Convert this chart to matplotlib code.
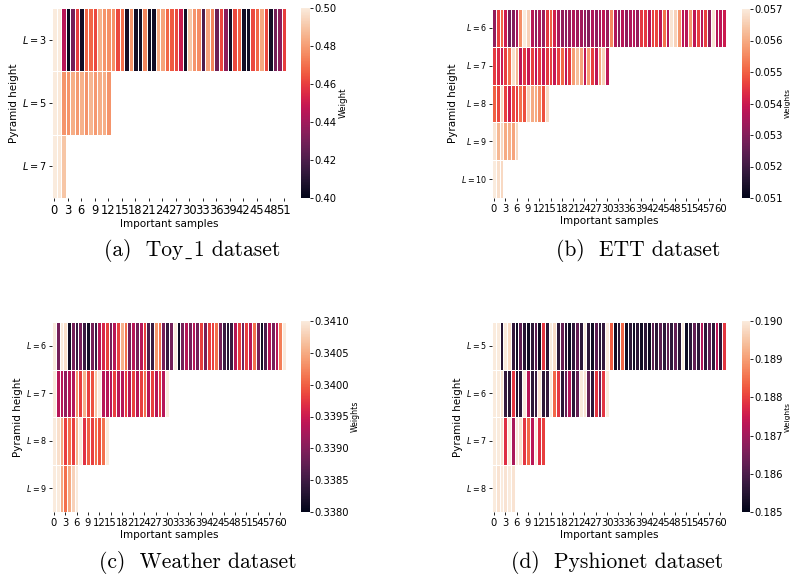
import matplotlib
matplotlib.use('Agg')
import matplotlib.pyplot as plt
import numpy as np
import seaborn as sns

# ---- data ----
toy_labels = ['$L=3$', '$L=5$', '$L=7$']
toy_L3 = [0.500, 0.500, 0.445, 0.402, 0.430, 0.460, 0.405, 0.468, 0.468, 0.462,
          0.485, 0.478, 0.477, 0.477, 0.462, 0.470, 0.405, 0.478, 0.405, 0.405,
          0.475, 0.405, 0.405, 0.483, 0.482, 0.468, 0.465, 0.462, 0.450, 0.405,
          0.490, 0.478, 0.476, 0.420, 0.482, 0.475, 0.428, 0.462, 0.435, 0.405,
          0.462, 0.467, 0.405, 0.405, 0.462, 0.468, 0.483, 0.462, 0.405, 0.430,
          0.435, 0.460]
toy_L5 = [0.500, 0.499, 0.478, 0.478, 0.484, 0.479, 0.485, 0.478, 0.486, 0.479,
          0.484, 0.484, 0.478]
toy_L7 = [0.500, 0.499, 0.490]

ett_labels = ['$L=6$', '$L=7$', '$L=8$', '$L=9$', '$L=10$']
ett_L6 = [0.0532, 0.0546, 0.0551, 0.0540, 0.0528, 0.0530, 0.0535, 0.0556, 0.0570, 0.0566,
          0.0537, 0.0531, 0.0536, 0.0533, 0.0545, 0.0550, 0.0541, 0.0535, 0.0532, 0.0531,
          0.0533, 0.0536, 0.0534, 0.0534, 0.0532, 0.0530, 0.0536, 0.0532, 0.0535, 0.0538,
          0.0533, 0.0555, 0.0536, 0.0531, 0.0537, 0.0532, 0.0536, 0.0537, 0.0533, 0.0545,
          0.0545, 0.0537, 0.0546, 0.0547, 0.0538, 0.0552, 0.0537, 0.0569, 0.0566, 0.0557,
          0.0538, 0.0537, 0.0557, 0.0538, 0.0546, 0.0537, 0.0546, 0.0532, 0.0569, 0.0537,
          0.0538, 0.0540]
ett_L7 = [0.0545, 0.0543, 0.0540, 0.0546, 0.0552, 0.0568, 0.0562, 0.0538, 0.0545, 0.0539,
          0.0546, 0.0538, 0.0545, 0.0539, 0.0545, 0.0546, 0.0539, 0.0546, 0.0551, 0.0538,
          0.0545, 0.0558, 0.0563, 0.0559, 0.0538, 0.0558, 0.0546, 0.0538, 0.0559, 0.0566,
          0.0538]
ett_L8 = [0.0550, 0.0547, 0.0567, 0.0546, 0.0540, 0.0547, 0.0546, 0.0552, 0.0548, 0.0566,
          0.0560, 0.0560, 0.0556, 0.0548, 0.0567]
ett_L9 = [0.0569, 0.0562, 0.0567, 0.0560, 0.0561, 0.0559, 0.0567]
ett_L10 = [0.0570, 0.0568, 0.0567]

wea_labels = ['$L=6$', '$L=7$', '$L=8$', '$L=9$']
wea_L6 = [0.3410, 0.3389, 0.3410, 0.3409, 0.33815, 0.3389, 0.33845, 0.3389, 0.33845, 0.33815,
          0.3389, 0.33845, 0.33935, 0.3396, 0.3398, 0.3389, 0.33935, 0.3398, 0.34055, 0.3401,
          0.3389, 0.33935, 0.3389, 0.33935, 0.3398, 0.3386, 0.33845, 0.34035, 0.3401, 0.3389,
          0.33845, 0.3389, 0.3410, 0.33815, 0.3389, 0.33935, 0.3389, 0.33935, 0.3389, 0.3398,
          0.3389, 0.3398, 0.3398, 0.3401, 0.3389, 0.33845, 0.3383, 0.33845, 0.33935, 0.3398,
          0.3389, 0.3398, 0.33935, 0.3401, 0.3389, 0.33815, 0.3386, 0.33935, 0.3389, 0.33935,
          0.3402, 0.3410]
wea_L7 = [0.3410, 0.33935, 0.33935, 0.3391, 0.33935, 0.33935, 0.34035, 0.3398, 0.34055, 0.3398,
          0.3399, 0.3407, 0.3410, 0.33935, 0.33935, 0.33935, 0.3398, 0.33935, 0.33935, 0.3398,
          0.33935, 0.3398, 0.33935, 0.3398, 0.3401, 0.33935, 0.3398, 0.33935, 0.3398, 0.33935,
          0.3410]
wea_L8 = [0.3410, 0.3409, 0.3405, 0.3398, 0.3401, 0.3398, 0.3406, 0.3410, 0.3397, 0.3400,
          0.3398, 0.3401, 0.3399, 0.3401, 0.3410]
wea_L9 = [0.3410, 0.3410, 0.3405, 0.3401, 0.3405, 0.3408, 0.3410]

phy_labels = ['$L=5$', '$L=6$', '$L=7$', '$L=8$']
phy_L5 = [0.1900, 0.1900, 0.1855, 0.1900, 0.1898, 0.1857, 0.1852, 0.1862, 0.1855, 0.1852,
          0.1856, 0.1862, 0.1852, 0.1879, 0.1856, 0.1900, 0.1898, 0.1856, 0.1863, 0.1855,
          0.1852, 0.1856, 0.1863, 0.1856, 0.1900, 0.1856, 0.1852, 0.1862, 0.1856, 0.1857,
          0.1900, 0.1883, 0.1852, 0.1856, 0.1884, 0.1852, 0.1856, 0.1852, 0.1856, 0.1852,
          0.1856, 0.1852, 0.1862, 0.1856, 0.1862, 0.1856, 0.1863, 0.1856, 0.1863, 0.1856,
          0.1900, 0.1852, 0.1856, 0.1863, 0.1856, 0.1872, 0.1856, 0.1863, 0.1856, 0.1873,
          0.1856, 0.1879]
phy_L6 = [0.1900, 0.1900, 0.1899, 0.1857, 0.1856, 0.1879, 0.1855, 0.1856, 0.1900, 0.1873,
          0.1856, 0.1858, 0.1899, 0.1856, 0.1857, 0.1900, 0.1884, 0.1879, 0.1856, 0.1863,
          0.1872, 0.1856, 0.1863, 0.1900, 0.1899, 0.1863, 0.1856, 0.1879, 0.1864, 0.1879,
          0.1900]
phy_L7 = [0.1900, 0.1900, 0.1899, 0.1878, 0.1900, 0.1871, 0.1900, 0.1899, 0.1879, 0.1884,
          0.1873, 0.1900, 0.1878, 0.1880]
phy_L8 = [0.1900, 0.1899, 0.1900, 0.1899, 0.1900, 0.1899]


def build(rows):
    # pad the shorter pyramid levels with NaN so seaborn masks them
    m = np.full((len(rows), len(rows[0])), np.nan)
    for i, r in enumerate(rows):
        m[i, :len(r)] = r
    return m


W, H = 793.0, 577.0
fig = plt.figure(figsize=(W / 100, H / 100), dpi=100)


def rect(x0, y0, x1, y1):
    return [x0 / W, 1 - y1 / H, (x1 - x0) / W, (y1 - y0) / H]


# cmr10 has no real underscore, so the low line comes from DejaVu Serif
US = '\u02cd'

panels = [
    dict(rows=[toy_L3, toy_L5, toy_L7], labels=toy_labels, vmin=0.40, vmax=0.50,
         ticks=[0.40, 0.42, 0.44, 0.46, 0.48, 0.50], fmt='%.2f', clabel='Weight',
         ax=rect(52, 8, 286, 198), cax=rect(301, 8, 310, 198), xsize=8.3, ysize=7.0, csize=6.3,
         caption='(a)  Toy' + US + '1 dataset', cap=(192, 250)),
    dict(rows=[ett_L6, ett_L7, ett_L8, ett_L9, ett_L10], labels=ett_labels, vmin=0.051, vmax=0.057,
         ticks=[0.051, 0.052, 0.053, 0.054, 0.055, 0.056, 0.057], fmt='%.3f', clabel='Weights',
         ax=rect(492, 9, 726, 198), cax=rect(742, 9, 750, 198), xsize=7.2, ysize=5.8, csize=5.4,
         caption='(b)  ETT dataset', cap=(638, 250)),
    dict(rows=[wea_L6, wea_L7, wea_L8, wea_L9], labels=wea_labels, vmin=0.3380, vmax=0.3410,
         ticks=[0.3380, 0.3385, 0.3390, 0.3395, 0.3400, 0.3405, 0.3410], fmt='%.4f', clabel='Weights',
         ax=rect(52, 322, 286, 512), cax=rect(301, 321, 310, 512), xsize=7.2, ysize=5.8, csize=5.6,
         caption='(c)  Weather dataset', cap=(198, 563)),
    dict(rows=[phy_L5, phy_L6, phy_L7, phy_L8], labels=phy_labels, vmin=0.185, vmax=0.190,
         ticks=[0.185, 0.186, 0.187, 0.188, 0.189, 0.190], fmt='%.3f', clabel='Weights',
         ax=rect(492, 322, 726, 512), cax=rect(742, 321, 750, 512), xsize=7.2, ysize=5.8, csize=5.4,
         caption='(d)  Pyshionet dataset', cap=(617, 563)),
]

for p in panels:
    ax = fig.add_axes(p['ax'])
    cax = fig.add_axes(p['cax'])
    sns.heatmap(build(p['rows']), ax=ax, cbar_ax=cax, cmap='rocket',
                vmin=p['vmin'], vmax=p['vmax'], linewidths=0.6, linecolor='white',
                xticklabels=3, yticklabels=p['labels'])
    ax.set_xlabel('Important samples', fontsize=7.5, labelpad=1.5)
    ax.set_ylabel('Pyramid height', fontsize=7.5, labelpad=2)
    ax.tick_params(axis='x', labelsize=p['xsize'], rotation=0, length=2.5, width=0.6, pad=1.5)
    ax.tick_params(axis='y', labelsize=p['ysize'], rotation=0, length=2.5, width=0.6, pad=1.5)
    cax.set_yticks(p['ticks'])
    cax.set_yticklabels([p['fmt'] % t for t in p['ticks']])
    cax.tick_params(labelsize=7.2, length=2.5, width=0.6, pad=1)
    cax.set_ylabel(p['clabel'], fontsize=p['csize'], labelpad=1)
    fig.text(p['cap'][0] / W, 1 - p['cap'][1] / H, p['caption'],
             family=['cmr10', 'DejaVu Serif'], fontsize=15.5, ha='center', va='center')

fig.savefig('out.png', dpi=100)
